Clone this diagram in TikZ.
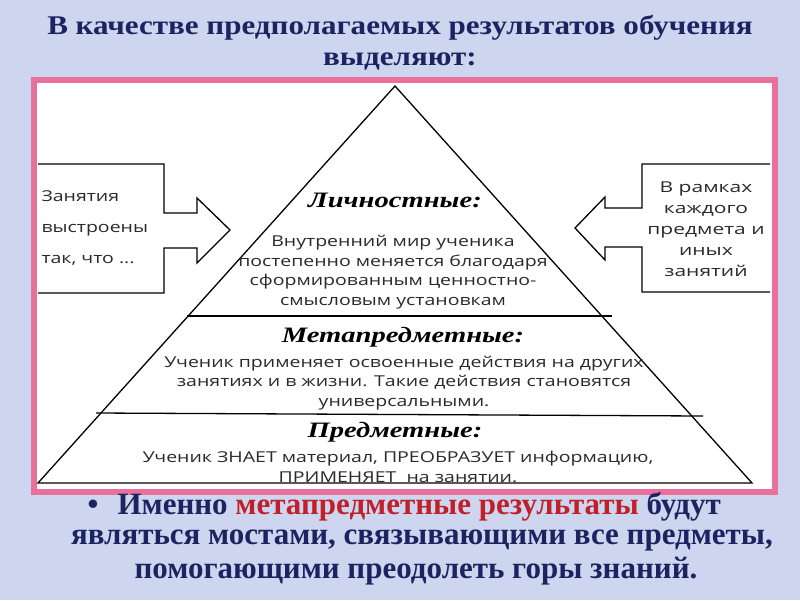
\documentclass[tikz,border=0pt]{standalone}
\usepackage{fontspec}
\setmainfont{Liberation Serif}
\newfontfamily\osans[FakeStretch=1.3]{Open Sans}
\newfontfamily\osansw[FakeStretch=1.4]{Open Sans}
\newfontfamily\tserif[FakeStretch=1.15]{Liberation Serif}
\newfontfamily\hserif[FakeStretch=1.3]{Liberation Serif}
\definecolor{bgc}{HTML}{CDD6EE}
\definecolor{navy}{HTML}{1B2460}
\definecolor{pinkf}{HTML}{E8709A}
\definecolor{redt}{HTML}{C0202A}
\definecolor{txt}{HTML}{2A2A2A}
\tikzset{
  body/.style={font=\osans\fontsize{15}{19.5}\selectfont, text=txt, align=center},
  head/.style={font=\hserif\bfseries\itshape\fontsize{22}{24}\selectfont, text=black},
  title/.style={font=\tserif\bfseries\fontsize{27}{31}\selectfont, text=navy, align=center},
  bot/.style={font=\bfseries\fontsize{31}{32}\selectfont, text=navy},
  outl/.style={draw=black, line width=1.3pt, fill=white, line join=miter},
}
\begin{document}
\begin{tikzpicture}[x=1pt,y=-1pt]
\fill[bgc] (0,0) rectangle (800,600);
\useasboundingbox (0,0) rectangle (800,600);
\node[title] (t) at (400,43) {В качестве предполагаемых результатов обучения\\выделяют:};
\draw[pinkf, line width=6pt, fill=white] (34,80) rectangle (775,492);
% pyramid
\draw[outl] (395,86) coordinate (apex) -- (752,483) coordinate (br) -- (38,483) coordinate (bl) -- cycle;
\coordinate (l1a) at (187,316); \coordinate (l1b) at (612,316);
\coordinate (l2a) at (96,413); \coordinate (l2b) at (703,416);
\draw[line width=1.3pt] (l1a) -- (l1b);
\draw[line width=1.3pt] (l2a) -- (l2b);
% left arrow box
\draw[outl] (38,164) -- (164,164) -- (164,213) -- (197,213) -- (197,198) -- (230,230) -- (197,263) -- (197,248) -- (164,248) -- (164,293) -- (38,293);
\node[body, anchor=west, align=left, font=\osans\fontsize{15}{31}\selectfont] (lt) at (38,228) {Занятия\\выстроены\\так, что ...};
% right arrow box
\draw[outl] (770,164) -- (642,164) -- (642,208) -- (605,208) -- (605,197) -- (575,228) -- (605,260) -- (605,247) -- (642,247) -- (642,292) -- (770,292);
\node[body, font=\osansw\fontsize{15}{21}\selectfont] (rt) at (706,229) {В рамках\\каждого\\предмета и\\иных\\занятий};
% texts
\node[head] (h1) at (395,200) {Личностные:};
\node[body] (b1) at (393,272) {Внутренний мир ученика\\постепенно меняется благодаря\\сформированным ценностно-\\смысловым установкам};
\node[head] (h2) at (403,337) {Метапредметные:};
\node[body] (b2) at (404,383) {Ученик применяет освоенные действия на других\\занятиях и в жизни. Такие действия становятся\\универсальными.};
\node[head] (h3) at (395,432) {Предметные:};
\node[body] (b3) at (398,467) {Ученик ЗНАЕТ материал, ПРЕОБРАЗУЕТ информацию,\\ПРИМЕНЯЕТ\ \ на занятии.};
% bottom
\node[bot, anchor=west] (bul) at (84,507) {•};
\node[bot, anchor=west] (bt1) at (114,507) {Именно \textcolor{redt}{метапредметные результаты} будут};
\node[bot] (bt2) at (422,540) {являться мостами, связывающими все предметы,};
\node[bot] (bt3) at (416,571) {помогающими преодолеть горы знаний.};
\end{tikzpicture}
\end{document}
